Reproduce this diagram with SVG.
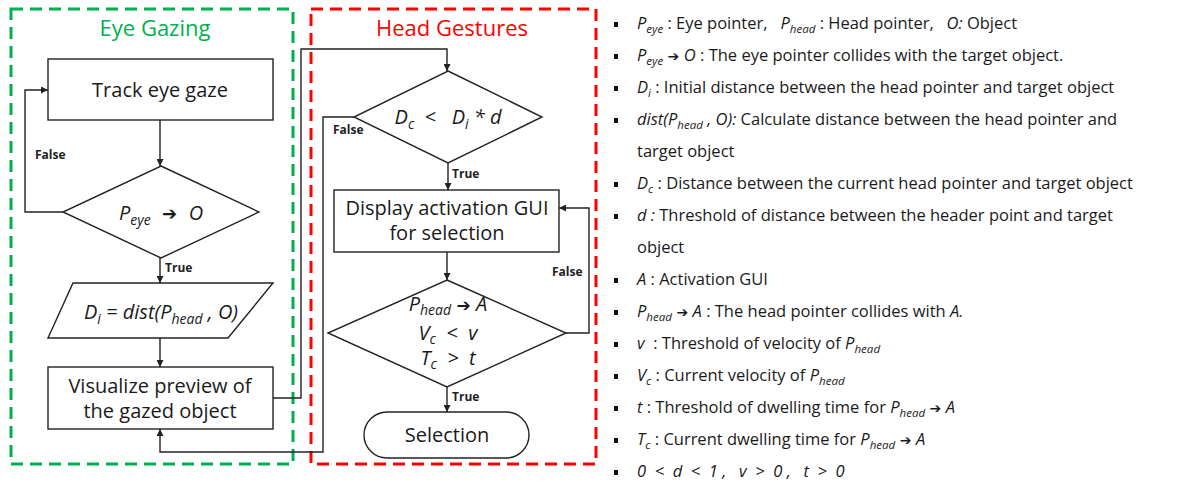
<svg xmlns="http://www.w3.org/2000/svg" width="1185" height="488" viewBox="0 0 1185 488">
<style>
.node{fill:#fff;stroke:#222;stroke-width:1.4}
.conn{fill:none;stroke:#222;stroke-width:1.4}
.t{font-family:"Open Sans","Noto Sans",sans-serif;fill:#1a1a1a;white-space:pre}
.ft{font-size:20px;text-anchor:middle}
.lbl{font-family:"Open Sans","Noto Sans",sans-serif;font-size:12px;font-weight:bold;fill:#222}
.it{font-style:italic}
.ar{font-family:"DejaVu Sans",sans-serif;font-style:normal}
.lg{font-size:16.5px}
.sub{font-size:70%}
.bul{fill:#111}
</style>
<defs>
<marker id="ah" viewBox="0 0 10 10" refX="10" refY="5" markerWidth="7" markerHeight="7" markerUnits="userSpaceOnUse" orient="auto">
<path d="M0,0 L10,5 L0,10 z" fill="#222"/>
</marker>
</defs>
<rect width="1185" height="488" fill="#fff"/>

<g id="eye-gazing">
<rect x="11" y="9" width="282" height="455" fill="none" stroke="#00B050" stroke-width="3" stroke-dasharray="12 7"/>
<text class="t" x="155" y="36" font-size="22" text-anchor="middle" style="fill:#00B050">Eye Gazing</text>
</g>
<g id="head-gestures">
<rect x="311" y="9" width="285" height="455" fill="none" stroke="#FF0000" stroke-width="3" stroke-dasharray="12 7"/>
<text class="t" x="452" y="36" font-size="22" text-anchor="middle" style="fill:#FF0000">Head Gestures</text>
</g>

<g id="connectors">
<path class="conn" d="M160,120 V166" marker-end="url(#ah)"/>
<path class="conn" d="M63,212 H25 V90 H48" marker-end="url(#ah)"/>
<path class="conn" d="M160,258 V283" marker-end="url(#ah)"/>
<path class="conn" d="M160,338 V367" marker-end="url(#ah)"/>
<path class="conn" d="M273,398 H301 V49 H447 V71" marker-end="url(#ah)"/>
<path class="conn" d="M354,117 H323 V452 H160 V429" marker-end="url(#ah)"/>
<path class="conn" d="M448,163 V190" marker-end="url(#ah)"/>
<path class="conn" d="M447,252 V280" marker-end="url(#ah)"/>
<path class="conn" d="M566,333 H589 V208 H559" marker-end="url(#ah)"/>
<path class="conn" d="M447,387 V412" marker-end="url(#ah)"/>
<text class="lbl" x="35" y="159">False</text>
<text class="lbl" x="165" y="272">True</text>
<text class="lbl" x="333" y="134">False</text>
<text class="lbl" x="452" y="178">True</text>
<text class="lbl" x="552" y="276">False</text>
<text class="lbl" x="452" y="401">True</text>
</g>

<g id="track">
<rect class="node" x="48" y="59" width="225" height="61"/>
<text class="t ft" x="160" y="97">Track eye gaze</text>
</g>
<g id="check-eye">
<polygon class="node" points="161,166 259,212 161,258 63,212"/>
<text class="t ft it" x="161" y="220"><tspan>P</tspan><tspan class="sub" dy="5">eye</tspan><tspan dy="-5" class="ar" font-size="18">  ➔  </tspan><tspan>O</tspan></text>
</g>
<g id="init-dist">
<polygon class="node" points="73,283 273,283 228,338 48,338"/>
<text class="t ft it" x="161" y="319"><tspan>D</tspan><tspan class="sub" dy="5" font-size="11">i</tspan><tspan dy="-5"> = dist(P</tspan><tspan class="sub" dy="5">head</tspan><tspan dy="-5"> , O)</tspan></text>
</g>
<g id="visualize">
<rect class="node" x="48" y="367" width="225" height="62"/>
<text class="t ft" x="160" y="393">Visualize preview of</text>
<text class="t ft" x="160" y="418">the gazed object</text>
</g>
<g id="check-dist">
<polygon class="node" points="448,71 542,117 448,163 354,117"/>
<text class="t ft it" x="448" y="124"><tspan>D</tspan><tspan class="sub" dy="5">c</tspan><tspan dy="-5">  &lt;   D</tspan><tspan class="sub" dy="5" font-size="11">i</tspan><tspan dy="-5"> * d</tspan></text>
</g>
<g id="display">
<rect class="node" x="334" y="190" width="225" height="62"/>
<text class="t ft" x="447" y="215">Display activation GUI</text>
<text class="t ft" x="447" y="240">for selection</text>
</g>
<g id="check-select">
<polygon class="node" points="447,280 566,333 447,387 328,333"/>
<text class="t ft it" x="448" y="311"><tspan>P</tspan><tspan class="sub" dy="4">head</tspan><tspan dy="-4" class="ar" font-size="17"> ➔ </tspan><tspan>A</tspan></text>
<text class="t ft it" x="448" y="340"><tspan>V</tspan><tspan class="sub" dy="4">c</tspan><tspan dy="-4">  &lt;  v</tspan></text>
<text class="t ft it" x="448" y="365"><tspan>T</tspan><tspan class="sub" dy="4">c</tspan><tspan dy="-4">  &gt;  t</tspan></text>
</g>
<g id="selection">
<rect class="node" x="364" y="412" width="165" height="46" rx="23" ry="23"/>
<text class="t ft" x="447" y="442">Selection</text>
</g>

<g id="legend">
<rect class="bul" x="614" y="22" width="4" height="5"/>
<rect class="bul" x="614" y="54" width="4" height="5"/>
<rect class="bul" x="614" y="86" width="4" height="5"/>
<rect class="bul" x="614" y="118" width="4" height="5"/>
<rect class="bul" x="614" y="182" width="4" height="5"/>
<rect class="bul" x="614" y="214" width="4" height="5"/>
<rect class="bul" x="614" y="278" width="4" height="5"/>
<rect class="bul" x="614" y="310" width="4" height="5"/>
<rect class="bul" x="614" y="342" width="4" height="5"/>
<rect class="bul" x="614" y="374" width="4" height="5"/>
<rect class="bul" x="614" y="406" width="4" height="5"/>
<rect class="bul" x="614" y="438" width="4" height="5"/>
<rect class="bul" x="614" y="470" width="4" height="5"/>

<text class="t lg" x="637" y="29"><tspan class="it">P</tspan><tspan class="it sub" dy="4">eye</tspan><tspan dy="-4"> : Eye pointer,   </tspan><tspan class="it">P</tspan><tspan class="it sub" dy="4">head</tspan><tspan dy="-4"> : Head pointer,   </tspan><tspan class="it">O:</tspan><tspan> Object</tspan></text>
<text class="t lg" x="637" y="61"><tspan class="it">P</tspan><tspan class="it sub" dy="4">eye</tspan><tspan dy="-4" class="ar" font-size="14"> ➔ </tspan><tspan class="it">O</tspan><tspan> : The eye pointer collides with the target object.</tspan></text>
<text class="t lg" x="637" y="93"><tspan class="it">D</tspan><tspan class="it sub" dy="4" font-size="10">i</tspan><tspan dy="-4"> : Initial distance between the head pointer and target object</tspan></text>
<text class="t lg" x="637" y="125"><tspan class="it">dist(P</tspan><tspan class="it sub" dy="4">head</tspan><tspan dy="-4" class="it"> , O):</tspan><tspan> Calculate distance between the head pointer and</tspan></text>
<text class="t lg" x="637" y="157">target object</text>
<text class="t lg" x="637" y="189"><tspan class="it">D</tspan><tspan class="it sub" dy="4">c</tspan><tspan dy="-4"> : Distance between the current head pointer and target object</tspan></text>
<text class="t lg" x="637" y="221"><tspan class="it">d :</tspan><tspan> Threshold of distance between the header point and target</tspan></text>
<text class="t lg" x="637" y="253">object</text>
<text class="t lg" x="637" y="285"><tspan class="it">A</tspan><tspan> : Activation GUI</tspan></text>
<text class="t lg" x="637" y="317"><tspan class="it">P</tspan><tspan class="it sub" dy="4">head</tspan><tspan dy="-4" class="ar" font-size="14"> ➔ </tspan><tspan class="it">A</tspan><tspan> : The head pointer collides with </tspan><tspan class="it">A.</tspan></text>
<text class="t lg" x="637" y="349"><tspan class="it">v </tspan><tspan> : Threshold of velocity of </tspan><tspan class="it">P</tspan><tspan class="it sub" dy="4">head</tspan></text>
<text class="t lg" x="637" y="381"><tspan class="it">V</tspan><tspan class="it sub" dy="4">c</tspan><tspan dy="-4"> : Current velocity of </tspan><tspan class="it">P</tspan><tspan class="it sub" dy="4">head</tspan></text>
<text class="t lg" x="637" y="413"><tspan class="it">t</tspan><tspan> : Threshold of dwelling time for </tspan><tspan class="it">P</tspan><tspan class="it sub" dy="4">head</tspan><tspan dy="-4" class="ar" font-size="14"> ➔ </tspan><tspan class="it">A</tspan></text>
<text class="t lg" x="637" y="445"><tspan class="it">T</tspan><tspan class="it sub" dy="4">c</tspan><tspan dy="-4"> : Current dwelling time for </tspan><tspan class="it">P</tspan><tspan class="it sub" dy="4">head</tspan><tspan dy="-4" class="ar" font-size="14"> ➔ </tspan><tspan class="it">A</tspan></text>
<text class="t lg it" x="637" y="477">0  &lt;  d  &lt;  1 ,   v  &gt;  0 ,   t  &gt;  0</text>
</g>
</svg>
